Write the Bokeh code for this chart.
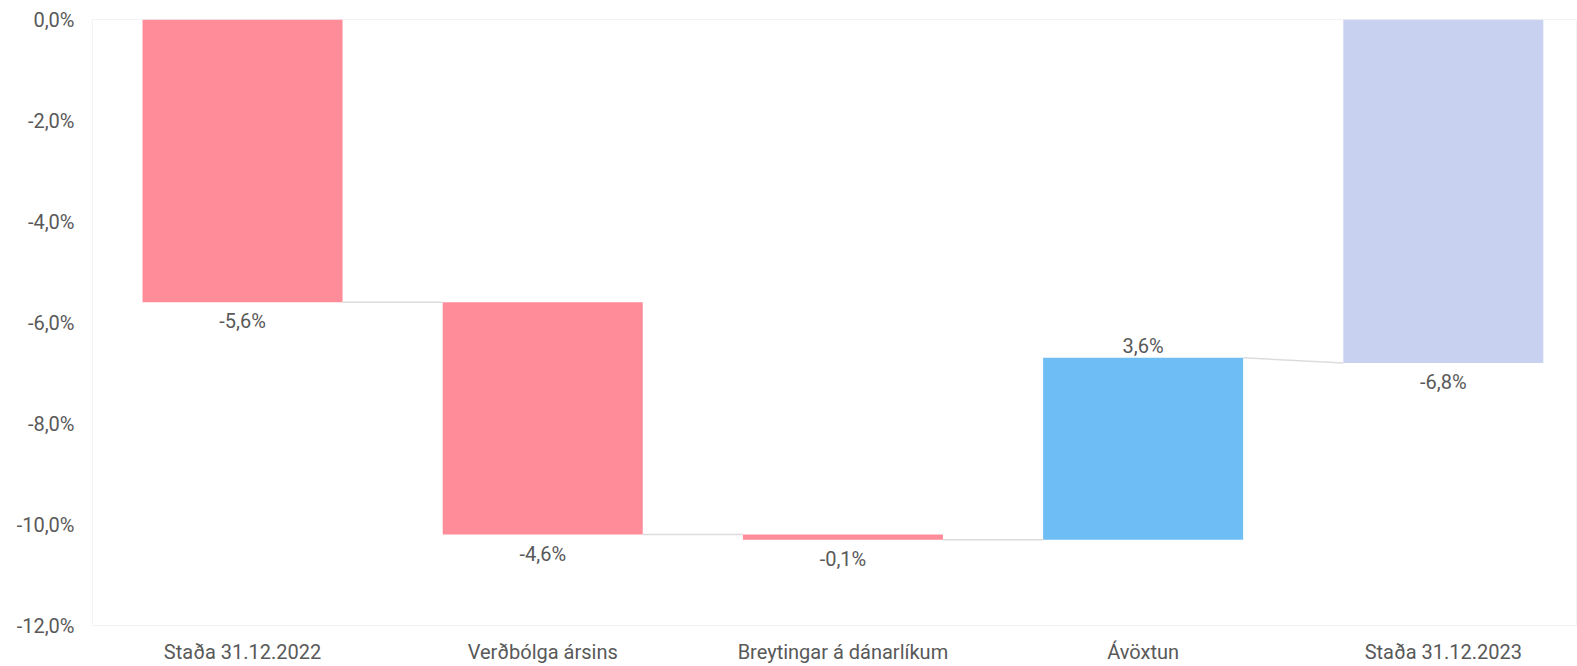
import numpy as np
from bokeh.plotting import figure
from bokeh.models import Range1d, FixedTicker, ColumnDataSource
from bokeh.core.properties import value
from bokeh.embed import file_html
from bokeh.resources import INLINE

categories = ["Staða 31.12.2022", "Verðbólga ársins", "Breytingar á dánarlíkum", "Ávöxtun", "Staða 31.12.2023"]
values = [-5.6, -4.6, -0.1, 3.6, -6.8]
is_total = [True, False, False, False, True]
colors = ["#FF8C99", "#FF8C99", "#FF8C99", "#6EBEF5", "#C8D2F0"]
y_ticks = [0, -2, -4, -6, -8, -10, -12]
y_tick_labels = ["0,0%", "-2,0%", "-4,0%", "-6,0%", "-8,0%", "-10,0%", "-12,0%"]

FONT = "Roboto"
TXT = "#595959"
FS = "20px"

# waterfall geometry
bottoms, tops, ends = [], [], []
running = 0.0
for v, tot in zip(values, is_total):
    if tot:
        start = 0.0
        end = v
        running = v
    else:
        start = running
        end = running + v
        running = end
    bottoms.append(min(start, end))
    tops.append(max(start, end))
    ends.append(end)
starts = [0.0 if t else (ends[i] - values[i]) for i, t in enumerate(is_total)]

xs = list(range(len(categories)))
bw = 0.6663

p = figure(width=1577, height=666, output_backend="svg", toolbar_location=None,
           x_range=Range1d(-0.4998, 4.447), y_range=Range1d(-12, 0),
           min_border_left=92, min_border_right=0, min_border_top=19, min_border_bottom=30)
p.background_fill_color = "white"
p.border_fill_color = "white"
p.outline_line_color = "#f3f3f3"
p.xgrid.visible = False
p.ygrid.visible = False

src = ColumnDataSource(dict(x=xs, top=tops, bottom=bottoms, color=colors))
p.vbar(x="x", width=bw, top="top", bottom="bottom", fill_color="color", line_color=None, source=src)

# connectors
x0 = [xs[i] + bw / 2 for i in range(len(xs) - 1)]
x1 = [xs[i + 1] - bw / 2 for i in range(len(xs) - 1)]
y0 = [ends[i] for i in range(len(xs) - 1)]
y1 = [ends[i + 1] if is_total[i + 1] else starts[i + 1] for i in range(len(xs) - 1)]
p.segment(x0=x0, y0=y0, x1=x1, y1=y1, line_color="#dcdcdc", line_width=1.5)

# labels
lab = [f"{v:.1f}".replace(".", ",") + "%" for v in values]
below_x, below_y, below_t, above_x, above_y, above_t = [], [], [], [], [], []
for i, v in enumerate(values):
    if v < 0:
        below_x.append(xs[i]); below_y.append(bottoms[i]); below_t.append(lab[i])
    else:
        above_x.append(xs[i]); above_y.append(tops[i]); above_t.append(lab[i])
p.text(x=below_x, y=below_y, text=below_t, text_align="center", text_baseline="middle",
       y_offset=19, text_font=value(FONT), text_font_size=FS, text_color=TXT)
p.text(x=above_x, y=above_y, text=above_t, text_align="center", text_baseline="middle",
       y_offset=-12, text_font=value(FONT), text_font_size=FS, text_color=TXT)

# axes
p.xaxis.ticker = FixedTicker(ticks=xs)
p.xaxis.major_label_overrides = {i: c for i, c in enumerate(categories)}
p.yaxis.ticker = FixedTicker(ticks=y_ticks)
p.yaxis.major_label_overrides = {t: l for t, l in zip(y_ticks, y_tick_labels)}
for ax in (p.xaxis[0], p.yaxis[0]):
    ax.axis_line_color = None
    ax.major_tick_line_color = None
    ax.minor_tick_line_color = None
    ax.major_tick_out = 0
    ax.major_tick_in = 0
    ax.major_label_text_font = FONT
    ax.major_label_text_font_size = FS
    ax.major_label_text_color = TXT
p.yaxis.major_label_standoff = 18
p.xaxis.major_label_standoff = 14

open("out.html", "w").write(file_html(p, INLINE))
